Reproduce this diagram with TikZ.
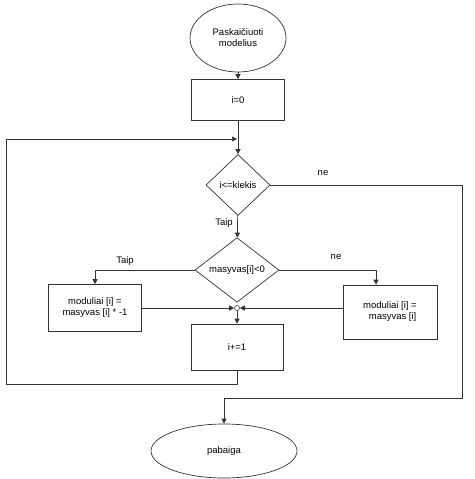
\documentclass[tikz,border=0pt]{standalone}
\usepackage{fontspec}
\setmainfont{Liberation Sans}
\usetikzlibrary{shapes.geometric,arrows.meta}
\begin{document}
\begin{tikzpicture}[x=1pt,y=-1pt,
  every node/.style={font=\fontsize{9.5}{11}\selectfont, align=center},
  line/.style={draw=black!80, line width=0.7pt},
  arr/.style={line, -{Triangle[length=5pt,width=5pt]}},
  boxnode/.style={draw=black!80, line width=0.7pt, rectangle, inner sep=0pt},
  oval/.style={draw=black!80, line width=0.7pt, ellipse, inner sep=0pt},
  dia/.style={draw=black!80, line width=0.7pt, diamond, inner sep=0pt},
  lbl/.style={inner sep=1pt}]
\useasboundingbox (0,0) rectangle (474,479);
\fill[white] (0,0) rectangle (474,479);

\node[oval, minimum width=96pt, minimum height=68pt] (start) at (238,38) {Paskaičiuoti\\modelius};
\node[boxnode, minimum width=93pt, minimum height=41pt] (b0) at (238,100) {i=0};
\node[dia, minimum width=64pt, minimum height=61pt] (d1) at (238,185) {i<=kiekis};
\node[dia, minimum width=84pt, minimum height=62pt] (d2) at (237,270) {masyvas[i]<0};
\node[boxnode, minimum width=93pt, minimum height=47pt] (lb) at (95,308) {moduliai [i] =\\masyvas [i] * -1};
\node[boxnode, minimum width=94pt, minimum height=54pt] (rb) at (390,312) {moduliai [i] =\\\ \ masyvas [i]};
\node[draw=black!80, line width=0.6pt, circle, minimum size=5pt, inner sep=0pt] (jn) at (237,308) {};
\node[boxnode, minimum width=92pt, minimum height=46pt] (b2) at (237,347) {i+=1};
\node[oval, minimum width=146pt, minimum height=54pt] (en) at (224,451) {pabaiga};

\coordinate (loopin) at (238,139);
\coordinate (loopa) at (237,384);
\coordinate (loopb) at (6,384);
\coordinate (loopc) at (6,139);
\coordinate (nea) at (462,185);
\coordinate (neb) at (462,398);
\coordinate (nec) at (224,398);
\coordinate (rbin) at (376,0);

\draw[arr] (start) -- (b0);
\draw[arr] (b0) -- (d1);
\draw[line] (b2.south) -- (loopa) -- (loopb) -- (loopc);
\draw[arr] (loopc) -- ([xshift=-1pt]loopin);
\draw[arr] (d1.east) -- (nea) -- (neb) -- (nec) -- (en.north);
\node[lbl] (ne1) at (323,173) {ne};
\draw[arr] (d1) -- (d2);
\node[lbl] (taip1) at (224,223) {Taip};
\draw[arr] (d2.west) -| (lb.north);
\node[lbl] (taip2) at (125,261) {Taip};
\draw[arr] (d2.east) -| (rb.north -| rbin);
\node[lbl] (ne2) at (336,257) {ne};
\draw[arr] (lb.east |- jn) -- (jn.west);
\draw[arr] (rb.west |- jn) -- (jn.east);
\draw[arr] (jn) -- (b2);
\end{tikzpicture}
\end{document}
